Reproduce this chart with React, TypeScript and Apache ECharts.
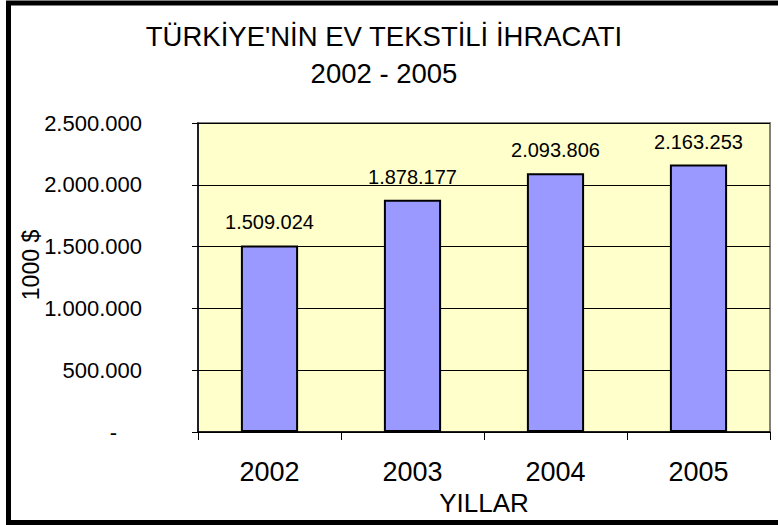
import React, { useEffect, useRef } from "react";
import * as echarts from "echarts";

const titleLines = ["TÜRKİYE'NİN EV TEKSTİLİ İHRACATI", "2002 - 2005"];
const categories = ["2002", "2003", "2004", "2005"];
const exportValues = [1509024, 1878177, 2093806, 2163253];
const xAxisName = "YILLAR";
const yAxisName = "1000 $";
const yMax = 2500000;
const yInterval = 500000;

const FONT = "'Liberation Sans', Arial, sans-serif";

function fmtDots(v: number): string {
  return Math.round(v)
    .toString()
    .replace(/\B(?=(\d{3})+(?!\d))/g, ".");
}

export default function App() {
  const ref = useRef<HTMLDivElement>(null);
  useEffect(() => {
    document.body.style.margin = "0";
    if (!ref.current) return;
    const chart = echarts.init(ref.current, undefined, { renderer: "svg" });
    chart.setOption({
      animation: false,
      backgroundColor: "#ffffff",
      textStyle: { fontFamily: FONT },
      title: {
        text: titleLines.join("\n"),
        left: 379,
        textAlign: "center",
        top: 13,
        textStyle: {
          fontFamily: FONT,
          fontSize: 27.5,
          fontWeight: "normal",
          color: "#000",
          lineHeight: 37,
        },
      },
      grid: {
        left: 198,
        top: 123,
        right: 8,
        bottom: 93,
        show: true,
        backgroundColor: "#FFFFCC",
        borderColor: "#808080",
        borderWidth: 2,
      },
      xAxis: {
        type: "category",
        data: categories,
        name: xAxisName,
        nameLocation: "middle",
        nameGap: 47,
        nameTextStyle: { fontFamily: FONT, fontSize: 26, color: "#000" },
        axisLine: { show: true, lineStyle: { color: "#000", width: 1.5 } },
        axisTick: { show: true, length: 8, lineStyle: { color: "#000" } },
        axisLabel: {
          fontFamily: FONT,
          fontSize: 27,
          color: "#000",
          margin: 26,
        },
        splitLine: { show: false },
      },
      yAxis: {
        type: "value",
        min: 0,
        max: yMax,
        interval: yInterval,
        axisLine: { show: true, lineStyle: { color: "#000", width: 1.5 } },
        axisTick: {
          show: true,
          inside: false,
          length: 6,
          lineStyle: { color: "#000" },
        },
        axisLabel: {
          fontFamily: FONT,
          fontSize: 22,
          color: "#000",
          margin: 56,
          formatter: (v: number) => (v === 0 ? "{z|-}" : fmtDots(v)),
          rich: {
            z: {
              fontFamily: FONT,
              fontSize: 22,
              color: "#000",
              padding: [0, 25, 0, 0],
            },
          },
        },
        splitLine: { show: true, lineStyle: { color: "#000", width: 1 } },
      },
      series: [
        {
          type: "bar",
          data: exportValues,
          barWidth: "40%",
          itemStyle: {
            color: "#9999FF",
            borderColor: "#000",
            borderWidth: 2,
          },
          label: {
            show: true,
            position: "top",
            distance: 13,
            fontFamily: FONT,
            fontSize: 20,
            color: "#000",
            formatter: (p: any) => fmtDots(p.value),
          },
        },
      ],
      graphic: [
        {
          type: "text",
          x: 31,
          y: 265,
          rotation: Math.PI / 2,
          silent: true,
          style: {
            text: yAxisName,
            fontFamily: FONT,
            fontSize: 23,
            fill: "#000",
            align: "center",
            verticalAlign: "middle",
          },
        },
        {
          type: "rect",
          shape: { x: 8.5, y: 3, width: 800, height: 519.5 },
          style: { fill: "none", stroke: "#000", lineWidth: 5 },
          silent: true,
          z: 100,
        },
      ],
    });
    return () => chart.dispose();
  }, []);
  return <div ref={ref} style={{ width: 778, height: 525 }} />;
}
